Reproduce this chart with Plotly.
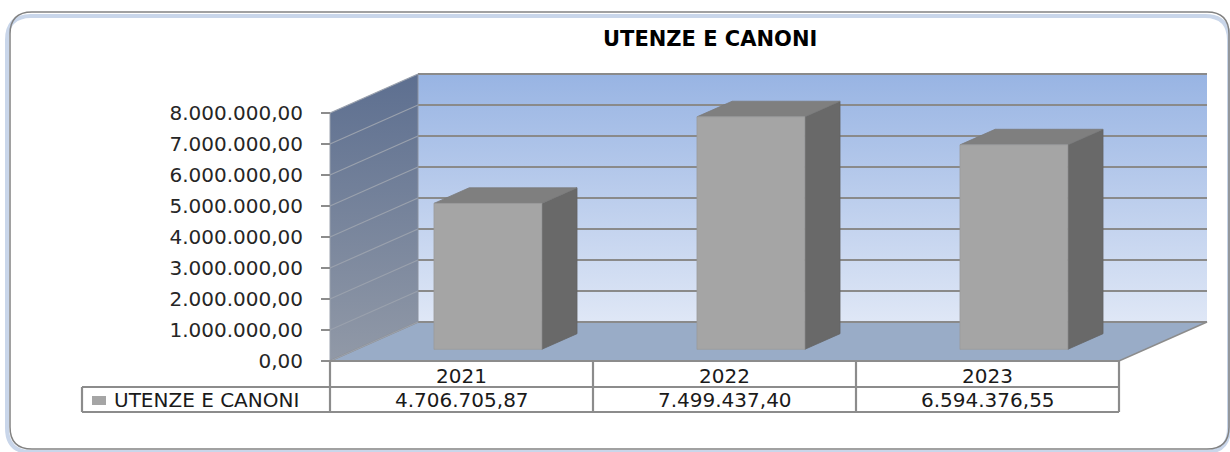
import plotly.graph_objects as go

# ---------------- data ----------------
categories = ["2021", "2022", "2023"]
values = [4706705.87, 7499437.40, 6594376.55]
series_name = "UTENZE E CANONI"
chart_title = "UTENZE E CANONI"
tick_values = [0, 1e6, 2e6, 3e6, 4e6, 5e6, 6e6, 7e6, 8e6]

# ---------------- geometry (pixels -> axis units) ----------------
W, H = 1230, 452
PX_LEFT, PX_RIGHT = 330, 1119          # front plane x extent
PY_ZERO, PX_PER_M = 361, 31.0          # y pixel of 0 and pixels per million
SX = (PX_RIGHT - PX_LEFT) / len(categories)


def px2x(px):
    return -0.5 + (px - PX_LEFT) / SX


def py2y(py):
    return (PY_ZERO - py) / PX_PER_M * 1e6


def pyp(py):  # pixel y -> paper
    return 1 - py / H


DX = 88 / SX                  # depth in x units
DY = 39 / PX_PER_M * 1e6      # depth in y units
YMAX = tick_values[-1]
N = len(categories)
BAR_W = 0.41
F0, F1 = 0.3, 0.7             # bar depth fraction

fig = go.Figure()


def poly(xs, ys, color=None, grad=None, line_color=None, lw=0):
    kw = dict(x=xs + [xs[0]], y=ys + [ys[0]], mode="lines", fill="toself",
              hoverinfo="skip", showlegend=False,
              line=dict(color=line_color or "rgba(0,0,0,0)", width=lw))
    if grad:
        kw["fillgradient"] = dict(type="vertical", colorscale=grad)
    else:
        kw["fillcolor"] = color
    fig.add_trace(go.Scatter(**kw))


def seg(xs, ys, color, w):
    fig.add_trace(go.Scatter(x=xs, y=ys, mode="lines", hoverinfo="skip",
                             showlegend=False, line=dict(color=color, width=w)))


xl, xr = -0.5, N - 0.5
# back wall
poly([xl + DX, xr + DX, xr + DX, xl + DX], [DY, DY, YMAX + DY, YMAX + DY],
     grad=[[0, "#DFE7F6"], [1, "#98B4E3"]])
# left wall
poly([xl, xl + DX, xl + DX, xl], [0, DY, YMAX + DY, YMAX],
     grad=[[0, "#9199A7"], [1, "#5D6F90"]])
# floor
poly([xl, xr, xr + DX, xl + DX], [0, 0, DY, DY], color="#99ACC7",
     line_color="#8C8C8C", lw=1.5)

# gridlines
for t in tick_values:
    seg([xl + DX, xr + DX], [t + DY, t + DY], "#8A8A8A", 1.8)
    seg([xl, xl + DX], [t, t + DY], "#9AA1AD", 1.2)
seg([xl + DX, xl + DX], [DY, YMAX + DY], "#8C93A0", 1)
seg([xl, xl], [0, YMAX], "#9AA1AD", 1)

# bars (side, top, front)
for i, v in enumerate(values):
    x0 = i - BAR_W / 2 + F0 * DX
    x1 = i + BAR_W / 2 + F0 * DX
    y0 = F0 * DY
    y1 = v + F0 * DY
    ddx = (F1 - F0) * DX
    ddy = (F1 - F0) * DY
    poly([x1, x1 + ddx, x1 + ddx, x1], [y0, y0 + ddy, y1 + ddy, y1],
         color="#696969", line_color="#646464", lw=0.8)
    poly([x0, x1, x1 + ddx, x0 + ddx], [y1, y1, y1 + ddy, y1 + ddy],
         color="#7F7F7F", line_color="#7A7A7A", lw=0.8)
    poly([x0, x1, x1, x0], [y0, y0, y1, y1],
         color="#A5A5A5", line_color="#9C9C9C", lw=0.8)

# ---------------- data table ----------------
shapes = []
TC = "#8C8C8C"
TW = 2.2
row_top, row_mid, row_bot = 361, 387, 412
x_leg = px2x(82)
shapes.append(dict(type="line", xref="x", yref="paper", x0=xl, x1=xr,
                   y0=pyp(row_top), y1=pyp(row_top), line=dict(color=TC, width=TW)))
for py in (row_mid, row_bot):
    shapes.append(dict(type="line", xref="x", yref="paper", x0=x_leg, x1=xr,
                       y0=pyp(py), y1=pyp(py), line=dict(color=TC, width=TW)))
for k in range(N + 1):
    xe = k - 0.5
    shapes.append(dict(type="line", xref="x", yref="paper", x0=xe, x1=xe,
                       y0=pyp(row_top), y1=pyp(row_bot), line=dict(color=TC, width=TW)))
shapes.append(dict(type="line", xref="x", yref="paper", x0=x_leg, x1=x_leg,
                   y0=pyp(row_mid), y1=pyp(row_bot), line=dict(color=TC, width=TW)))
# legend key square
shapes.append(dict(type="rect", xref="x", yref="paper", x0=px2x(92), x1=px2x(106),
                   y0=pyp(405), y1=pyp(396), fillcolor="#A5A5A5", line=dict(width=0)))


# outer rounded border
def rr(x0, y0, x1, y1, r):
    X = lambda px: px / W
    Y = lambda py: 1 - py / H
    return (f"M {X(x0 + r)},{Y(y0)} L {X(x1 - r)},{Y(y0)} "
            f"Q {X(x1)},{Y(y0)} {X(x1)},{Y(y0 + r)} L {X(x1)},{Y(y1 - r)} "
            f"Q {X(x1)},{Y(y1)} {X(x1 - r)},{Y(y1)} L {X(x0 + r)},{Y(y1)} "
            f"Q {X(x0)},{Y(y1)} {X(x0)},{Y(y1 - r)} L {X(x0)},{Y(y0 + r)} "
            f"Q {X(x0)},{Y(y0)} {X(x0 + r)},{Y(y0)} Z")


shapes.append(dict(type="path", xref="paper", yref="paper",
                   path=rr(7, 16, 1229, 452, 24),
                   line=dict(color="#C9D6EA", width=4), layer="below"))
shapes.append(dict(type="path", xref="paper", yref="paper",
                   path=rr(10, 12, 1229, 449, 22),
                   line=dict(color="#828282", width=1.5), layer="above"))

FONT = "DejaVu Sans"
TXT = "#1A1A1A"
FS = 20
annotations = []
annotations.append(dict(text=f"<b>{chart_title}</b>", x=710 / W, y=pyp(39),
                        xref="paper", yref="paper", xanchor="center", yanchor="middle",
                        showarrow=False, font=dict(family=FONT, size=21, color="#000000")))


def fmt_it(v):
    return f"{v:,.2f}".replace(",", "X").replace(".", ",").replace("X", ".")


for i, (c, v) in enumerate(zip(categories, values)):
    annotations.append(dict(text=c, x=i, y=pyp(376), xref="x", yref="paper",
                            xanchor="center", yanchor="middle", showarrow=False,
                            font=dict(family=FONT, size=FS, color=TXT)))
    annotations.append(dict(text=fmt_it(v), x=i, y=pyp(400), xref="x", yref="paper",
                            xanchor="center", yanchor="middle", showarrow=False,
                            font=dict(family=FONT, size=FS, color=TXT)))
annotations.append(dict(text=series_name, x=px2x(112), y=pyp(400), xref="x", yref="paper",
                        xanchor="left", yanchor="middle", showarrow=False,
                        font=dict(family=FONT, size=FS, color=TXT)))

fig.update_layout(
    width=W, height=H,
    margin=dict(l=0, r=0, t=0, b=0),
    paper_bgcolor="white", plot_bgcolor="rgba(0,0,0,0)",
    separators=",.",
    showlegend=False,
    shapes=shapes, annotations=annotations,
    xaxis=dict(domain=[0, 1], range=[px2x(0), px2x(W)], visible=False, fixedrange=True),
    yaxis=dict(domain=[0, 1], range=[py2y(H), py2y(0)], anchor="free",
               position=PX_LEFT / W, side="left", tickvals=tick_values,
               tickformat=",.2f", showgrid=False, zeroline=False, showline=False,
               ticks="outside", ticklen=9, tickcolor="#8C8C8C", tickwidth=1.5,
               ticklabelstandoff=14,
               tickfont=dict(family=FONT, size=FS, color="#262626"), fixedrange=True),
)

fig.write_html("out.html", config={"displayModeBar": False},
               post_script="document.body.style.margin='0px';document.body.style.overflow='hidden';")
